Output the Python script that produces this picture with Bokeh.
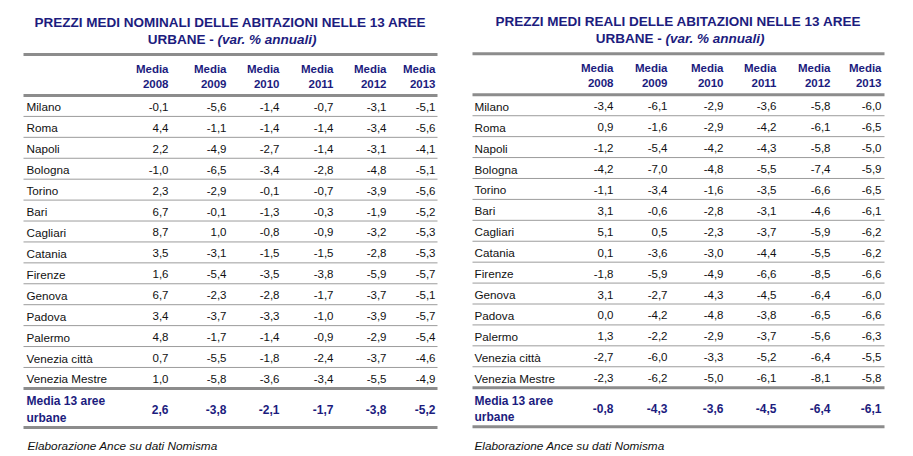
from bokeh.plotting import figure
from bokeh.models import ColumnDataSource, Range1d
from bokeh.core.properties import value
from bokeh.embed import file_html
from bokeh.resources import INLINE

# ---------------- data ----------------
cities = ["Milano", "Roma", "Napoli", "Bologna", "Torino", "Bari", "Cagliari",
          "Catania", "Firenze", "Genova", "Padova", "Palermo", "Venezia città",
          "Venezia Mestre"]
years = ["2008", "2009", "2010", "2011", "2012", "2013"]

nominal_values = [
    [-0.1, -5.6, -1.4, -0.7, -3.1, -5.1],
    [4.4, -1.1, -1.4, -1.4, -3.4, -5.6],
    [2.2, -4.9, -2.7, -1.4, -3.1, -4.1],
    [-1.0, -6.5, -3.4, -2.8, -4.8, -5.1],
    [2.3, -2.9, -0.1, -0.7, -3.9, -5.6],
    [6.7, -0.1, -1.3, -0.3, -1.9, -5.2],
    [8.7, 1.0, -0.8, -0.9, -3.2, -5.3],
    [3.5, -3.1, -1.5, -1.5, -2.8, -5.3],
    [1.6, -5.4, -3.5, -3.8, -5.9, -5.7],
    [6.7, -2.3, -2.8, -1.7, -3.7, -5.1],
    [3.4, -3.7, -3.3, -1.0, -3.9, -5.7],
    [4.8, -1.7, -1.4, -0.9, -2.9, -5.4],
    [0.7, -5.5, -1.8, -2.4, -3.7, -4.6],
    [1.0, -5.8, -3.6, -3.4, -5.5, -4.9],
]
nominal_mean = [2.6, -3.8, -2.1, -1.7, -3.8, -5.2]

real_values = [
    [-3.4, -6.1, -2.9, -3.6, -5.8, -6.0],
    [0.9, -1.6, -2.9, -4.2, -6.1, -6.5],
    [-1.2, -5.4, -4.2, -4.3, -5.8, -5.0],
    [-4.2, -7.0, -4.8, -5.5, -7.4, -5.9],
    [-1.1, -3.4, -1.6, -3.5, -6.6, -6.5],
    [3.1, -0.6, -2.8, -3.1, -4.6, -6.1],
    [5.1, 0.5, -2.3, -3.7, -5.9, -6.2],
    [0.1, -3.6, -3.0, -4.4, -5.5, -6.2],
    [-1.8, -5.9, -4.9, -6.6, -8.5, -6.6],
    [3.1, -2.7, -4.3, -4.5, -6.4, -6.0],
    [0.0, -4.2, -4.8, -3.8, -6.5, -6.6],
    [1.3, -2.2, -2.9, -3.7, -5.6, -6.3],
    [-2.7, -6.0, -3.3, -5.2, -6.4, -5.5],
    [-2.3, -6.2, -5.0, -6.1, -8.1, -5.8],
]
real_mean = [-0.8, -4.3, -3.6, -4.5, -6.4, -6.1]

nominal_title = "PREZZI MEDI NOMINALI DELLE ABITAZIONI NELLE 13 AREE"
real_title = "PREZZI MEDI REALI DELLE ABITAZIONI NELLE 13 AREE"
title_line2a = "URBANE - "
title_line2b = "(var. % annuali)"
header_top = "Media"
mean_label = ["Media 13 aree", "urbane"]
source_note = "Elaborazione Ance su dati Nomisma"

# ---------------- style ----------------
FONT = "Liberation Sans"
NAVY = "#1c1c7e"
BLACK = "#111111"
THICK = "#8c8c8c"
THIN = "#9c9c9c"

W, H = 905, 452
p = figure(width=W, height=H, output_backend="svg", toolbar_location=None,
           x_range=Range1d(0, W), y_range=Range1d(H, 0),
           min_border=0, outline_line_color=None, background_fill_color="white",
           border_fill_color="white")
p.xaxis.visible = False
p.yaxis.visible = False
p.xgrid.visible = False
p.ygrid.visible = False

TOP_LINE = 54
HEAD_LINE = 95
PITCH = 20.92
TY = 1.0  # small baseline correction for text


def fmt(v):
    return f"{v:.1f}".replace(".", ",")


def draw_table(x0, x1, col_off, name_off, note_off, title, values, mean, dy=0.0):
    cx = (x0 + x1) / 2
    # title
    p.text(x=[cx], y=[21 + dy + TY], text=[title], text_align="center", text_baseline="middle",
           text_font=value(FONT), text_font_style="bold", text_font_size="13.5px",
           text_color=NAVY)
    p.text(x=[cx - 13], y=[37.5 + dy + TY], text=[title_line2a], text_align="right",
           text_baseline="middle", text_font=value(FONT), text_font_style="bold",
           text_font_size="13.5px", text_color=NAVY)
    p.text(x=[cx - 13], y=[37.5 + dy + TY], text=[title_line2b], text_align="left",
           text_baseline="middle", text_font=value(FONT), text_font_style="bold italic",
           text_font_size="13.5px", text_color=NAVY)

    colx = [x0 + o for o in col_off]
    n = len(cities)
    # horizontal rules
    thick_y = [TOP_LINE, HEAD_LINE, HEAD_LINE + PITCH * n, HEAD_LINE + PITCH * n + 39]
    thick_y = [y + dy for y in thick_y]
    p.segment(x0=[x0] * 4, x1=[x1] * 4, y0=thick_y, y1=thick_y,
              line_color=THICK, line_width=3)
    thin_y = [HEAD_LINE + PITCH * k + dy for k in range(1, n)]
    p.segment(x0=[x0] * len(thin_y), x1=[x1] * len(thin_y), y0=thin_y, y1=thin_y,
              line_color=THIN, line_width=1)

    # header
    p.text(x=colx, y=[67 + dy + TY] * 6, text=[header_top] * 6, text_align="right",
           text_baseline="middle", text_font=value(FONT), text_font_style="bold",
           text_font_size="11.5px", text_color=NAVY)
    p.text(x=colx, y=[82.5 + dy + TY] * 6, text=years, text_align="right",
           text_baseline="middle", text_font=value(FONT), text_font_style="bold",
           text_font_size="11.5px", text_color=NAVY)

    # city names
    rows_y = [HEAD_LINE + PITCH * (i + 0.5) + dy + TY for i in range(n)]
    p.text(x=[x0 + name_off] * n, y=rows_y, text=cities, text_align="left",
           text_baseline="middle", text_font=value(FONT), text_font_size="11.7px",
           text_color=BLACK)
    # cells
    xs, ys, ts = [], [], []
    for i, row in enumerate(values):
        for j, v in enumerate(row):
            xs.append(colx[j]); ys.append(rows_y[i]); ts.append(fmt(v))
    src = ColumnDataSource(dict(x=xs, y=ys, t=ts))
    p.text(x="x", y="y", text="t", source=src, text_align="right",
           text_baseline="middle", text_font=value(FONT), text_font_size="11.5px",
           text_color=BLACK)

    # mean row
    base = HEAD_LINE + PITCH * n + dy + TY
    p.text(x=[x0 + name_off] * 2, y=[base + 12, base + 28.5], text=mean_label,
           text_align="left", text_baseline="middle", text_font=value(FONT),
           text_font_style="bold", text_font_size="12px", text_color=NAVY)
    p.text(x=colx, y=[base + 20] * 6, text=[fmt(v) for v in mean], text_align="right",
           text_baseline="middle", text_font=value(FONT), text_font_style="bold",
           text_font_size="12px", text_color=NAVY)

    # source note
    p.text(x=[x0 + note_off], y=[444 + TY], text=[source_note], text_align="left",
           text_baseline="middle", text_font=value(FONT), text_font_style="italic",
           text_font_size="11.8px", text_color=BLACK)


draw_table(23, 437, [145, 203, 256, 310, 363, 412], 3, 4,
           nominal_title, nominal_values, nominal_mean)
draw_table(472, 884, [141, 195, 251, 304, 358, 409], 2, 2,
           real_title, real_values, real_mean, dy=-0.7)

open("out.html", "w").write(file_html(p, INLINE))
